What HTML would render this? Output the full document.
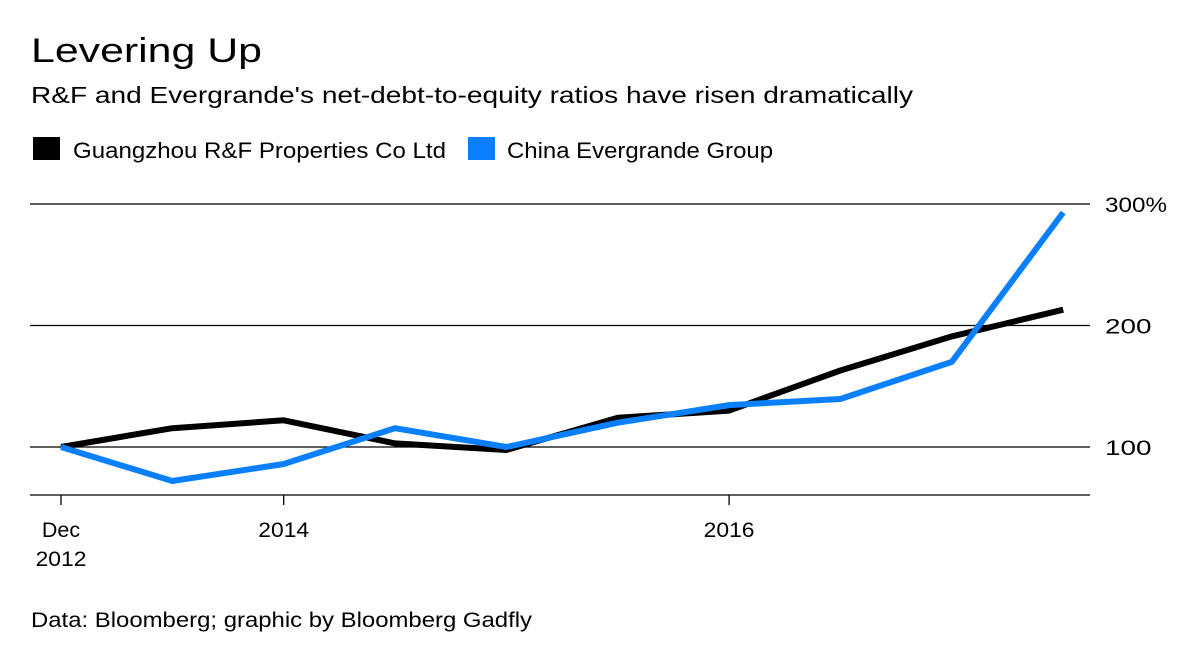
<!DOCTYPE html>
<html><head><meta charset="utf-8"><style>
body{margin:0;background:#fff;font-family:"Liberation Sans",sans-serif;}
svg{display:block}
</style></head><body>
<svg width="1200" height="655">
<text x="31" y="62" font-size="34" textLength="231" lengthAdjust="spacingAndGlyphs" fill="#000">Levering Up</text>
<text x="31" y="103" font-size="23.5" textLength="882" lengthAdjust="spacingAndGlyphs" fill="#000">R&amp;F and Evergrande's net-debt-to-equity ratios have risen dramatically</text>
<g>
<rect x="33" y="137" width="27" height="23" fill="#000"/>
<text x="73" y="158" font-size="22" textLength="373" lengthAdjust="spacingAndGlyphs">Guangzhou R&amp;F Properties Co Ltd</text>
<rect x="468" y="137" width="27" height="23" fill="#0a80ff"/>
<text x="507" y="158" font-size="22" textLength="266" lengthAdjust="spacingAndGlyphs">China Evergrande Group</text>
</g>
<g id="grid"></g>
<g id="series"></g>
<text x="31" y="627" font-size="21" textLength="501" lengthAdjust="spacingAndGlyphs">Data: Bloomberg; graphic by Bloomberg Gadfly</text>
</svg>
<script>
const periods=["Dec 2012","Jun 2013","Dec 2013","Jun 2014","Dec 2014","Jun 2015","Dec 2015","Jun 2016","Dec 2016","Jun 2017"];
const rfValues=[100,115.5,122,103,97.5,124,130,163,191,213];
const evergrandeValues=[100,72,86,115.5,100,120,134.5,139.5,170,293];
const yTicks=[100,200,300];
const yTickLabels=["100","200","300%"];
const xTickIdx=[0,2,6];
const xTickLabels=[["Dec","2012"],["2014"],["2016"]];
const NS="http://www.w3.org/2000/svg";
function x(i){return 61+i*111.35;}
function y(v){return 447-(v-100)*1.215;}
const grid=document.getElementById('grid'),series=document.getElementById('series');
function mk(t,a,p){const e=document.createElementNS(NS,t);for(const k in a)e.setAttribute(k,a[k]);p.appendChild(e);return e;}
yTicks.forEach((v,i)=>{
 const l=mk('line',{x1:30,x2:1090,y1:y(v),y2:y(v),stroke:'#000','stroke-width':1.3},grid);
 
 
 const lbl=yTickLabels[i];
 const t=mk('text',{x:1105,y:y(v)+8,'font-size':21,textLength:lbl.length*15.5,lengthAdjust:'spacingAndGlyphs'},grid);t.textContent=lbl;
 
 
});
const base=mk('line',{x1:30,x2:1090,y1:495,y2:495,stroke:'#000','stroke-width':1.3},grid);


xTickIdx.forEach((idx,i)=>{
 const tk=mk('line',{x1:x(idx),x2:x(idx),y1:495,y2:505,stroke:'#000','stroke-width':1.3},grid);
 
 
 xTickLabels[i].forEach((s,j)=>{
  const t=mk('text',{x:x(idx),y:537+j*29,'font-size':21,'text-anchor':'middle',textLength:s.length*12.7,lengthAdjust:'spacingAndGlyphs'},grid);t.textContent=s;
  
  
 });
});
function line(vals,color,name){
 const d=vals.map((v,i)=>(i?'L':'M')+x(i).toFixed(1)+','+y(v).toFixed(1)).join('');
 const p=mk('path',{d:d,fill:'none',stroke:color,'stroke-width':6,'stroke-linejoin':'round'},series);
 
 
}
line(rfValues,'#000','line-rf');
line(evergrandeValues,'#0a80ff','line-evergrande');
</script>
</body></html>
